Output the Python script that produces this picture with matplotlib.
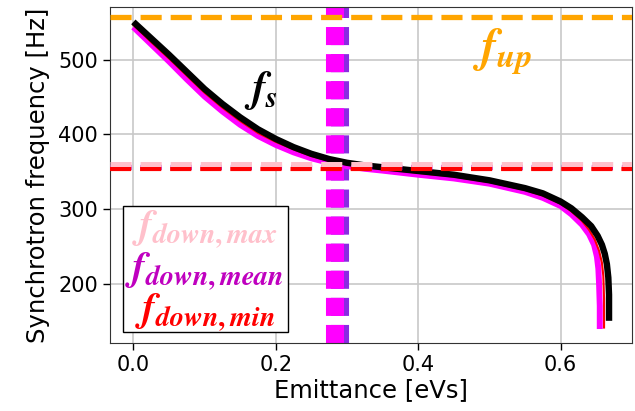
import matplotlib
matplotlib.use('Agg')
import matplotlib.pyplot as plt
from matplotlib.patches import Rectangle
import numpy as np

plt.rcParams['font.family'] = ['DejaVu Sans']
plt.rcParams['mathtext.fontset'] = 'custom'
plt.rcParams['mathtext.it'] = 'STIXGeneral:italic:bold'
plt.rcParams['mathtext.rm'] = 'STIXGeneral:bold'
plt.rcParams['mathtext.bf'] = 'STIXGeneral:italic:bold'

# synchrotron frequency curves
black_x = [0.0, 0.025, 0.05, 0.075, 0.1, 0.125, 0.15, 0.175, 0.2, 0.225, 0.25,
           0.275, 0.3, 0.325, 0.35, 0.4, 0.45, 0.5, 0.55, 0.575, 0.6, 0.615,
           0.63, 0.643, 0.652, 0.658, 0.662, 0.665, 0.667, 0.668, 0.668]
black_y = [551, 529, 507, 484, 461, 441, 423, 407, 394, 383, 374,
           367, 362, 358.5, 356, 351, 346, 338.5, 328, 321, 310, 301,
           289, 277, 264, 252, 240, 226, 208, 185, 150]

mag_x = [0.0, 0.025, 0.05, 0.075, 0.1, 0.125, 0.15, 0.175, 0.2, 0.225, 0.25,
         0.275, 0.3, 0.325, 0.35, 0.4, 0.45, 0.5, 0.55, 0.575, 0.6, 0.615,
         0.63, 0.64, 0.647, 0.651, 0.653, 0.654, 0.655, 0.655]
mag_y = [544, 521, 498, 474, 451, 431, 413, 398, 386, 376, 368,
         362, 357.5, 354, 351.5, 346, 341, 334, 323, 315, 304, 293,
         279, 266, 252, 236, 220, 200, 170, 139]

red_x = [0.0, 0.025, 0.05, 0.075, 0.1, 0.125, 0.15, 0.175, 0.2, 0.225, 0.25,
         0.275, 0.3, 0.325, 0.35, 0.4, 0.45, 0.5, 0.55, 0.575, 0.6, 0.615,
         0.63, 0.64, 0.648, 0.654, 0.658, 0.66, 0.661, 0.661]
red_y = [547, 524, 502, 479, 456, 436, 418, 402, 390, 380, 371,
         364.5, 359.5, 356, 354, 348.5, 343.5, 336, 325.5, 318, 307, 297,
         284, 272, 259, 244, 228, 210, 180, 141]

f_up = 557
f_down_max = 360
f_down_mean = 356
f_down_min = 353
emit_mean = 0.2827
emit_edge = 0.2897

legend_labels = [r'$f_{down,max}$', r'$f_{down,mean}$', r'$f_{down,min}$']
legend_colors = ['pink', 'm', 'red']

fig = plt.figure(figsize=(6.35, 4.11), dpi=100)
ax = fig.add_axes([0.173, 0.165, 0.822, 0.818])

ax.grid(True, color='#c8c8c8', lw=1.2, zorder=0)
ax.set_axisbelow(True)

# vertical emittance band
ax.axvline(emit_edge, color='#8a2be2', lw=13, dashes=(1.0, 0.5), zorder=2)
ax.axvline(emit_mean, color='#ff00ff', lw=13, dashes=(1.0, 0.5), zorder=2)

ax.plot(mag_x, mag_y, color='#ff00ff', lw=4.3, solid_capstyle='butt', zorder=4)
ax.plot(red_x, red_y, color='red', lw=1.5, zorder=4)
ax.plot(black_x, black_y, color='black', lw=4.6, solid_capstyle='butt', zorder=5)

# horizontal frequency limits (drawn on top of the curves)
ax.axhline(f_up, color='orange', lw=3.8, dashes=(4.0, 1.7), zorder=6)
ax.axhline(f_down_mean, color='m', lw=3.8, dashes=(4.0, 1.7), zorder=6)
ax.axhline(f_down_min, color='red', lw=3.0, dashes=(5.07, 2.15), zorder=6)
ax.axhline(f_down_max, color='pink', lw=3.6, dashes=(4.22, 1.8), zorder=6)

ax.text(0.179, 459, r'$f_s$', color='black', fontsize=31, ha='center', va='center')
ax.text(0.518, 511, r'$f_{up}$', color='orange', fontsize=34, ha='center', va='center')

# legend-like box with coloured labels
ax.add_patch(Rectangle((0.025, 0.034), 0.316, 0.374, transform=ax.transAxes,
                       facecolor='white', edgecolor='black', lw=1.0, zorder=7))
for lab, col, yy in zip(legend_labels, legend_colors, [0.340, 0.215, 0.092]):
    ax.text(0.182, yy, lab, color=col, fontsize=29, ha='center', va='center',
            transform=ax.transAxes, zorder=8)

ax.set_xlim(-0.033, 0.70)
ax.set_ylim(120, 571)
ax.set_xticks([0.0, 0.2, 0.4, 0.6])
ax.set_yticks([200, 300, 400, 500])
ax.tick_params(labelsize=15, length=5, width=1)
ax.set_xlabel('Emittance [eVs]', fontsize=17.5, labelpad=2)
ax.set_ylabel('Synchrotron frequency [Hz]', fontsize=17.5, labelpad=6)
for s in ax.spines.values():
    s.set_color('#333333')

fig.savefig('out.png', dpi=100)
